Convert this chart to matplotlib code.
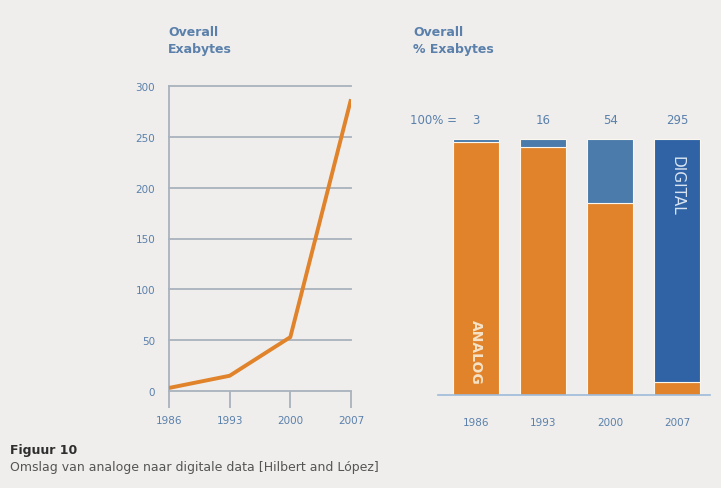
import matplotlib.pyplot as plt

years = [1986, 1993, 2000, 2007]
exabytes_line = [3, 15, 53, 287]
totals = ['3', '16', '54', '295']
digital_pct = [1, 3, 25, 95]
analog_pct = [100 - d for d in digital_pct]

bg = '#efeeec'
orange = '#e0832b'
blue_light = '#4a7bab'
blue_dark = '#2f63a6'
txt_blue = '#5a80ab'
grid_col = '#a9b2bd'

plt.rcParams['font.family'] = ['Liberation Sans Narrow', 'DejaVu Sans']

fig = plt.figure(figsize=(7.21, 4.89), dpi=100, facecolor=bg)

# left: line chart
ax1 = fig.add_axes([169 / 721, 97 / 489, 182 / 721, 305 / 489])
ax1.set_facecolor(bg)
ax1.plot(years, exabytes_line, color=orange, lw=2.8, solid_capstyle='butt', zorder=3)
ax1.set_xlim(1986, 2007)
ax1.set_ylim(0, 300)
ax1.set_yticks(range(0, 301, 50))
ax1.set_xticks(years)
for y in range(0, 301, 50):
    ax1.axhline(y, color=grid_col, lw=1.3, zorder=1, clip_on=False)
for k in ['top', 'right', 'bottom']:
    ax1.spines[k].set_visible(False)
ax1.spines['left'].set_color(grid_col)
ax1.spines['left'].set_linewidth(1.3)
ax1.tick_params(axis='y', length=0, pad=10, labelsize=7.5, labelcolor=txt_blue)
ax1.tick_params(axis='x', length=12, width=1.3, color=grid_col, direction='out',
                pad=5, labelsize=7.5, labelcolor=txt_blue)
fig.text(168 / 721, 1 - 26 / 489, 'Overall\nExabytes', fontsize=9, fontweight='bold',
         color=txt_blue, va='top', ha='left', linespacing=1.4)

# right: stacked 100% bars
ax2 = fig.add_axes([438 / 721, 93 / 489, 272 / 721, 256 / 489])
ax2.set_facecolor(bg)
xs = range(len(years))
ax2.bar(xs, analog_pct, width=0.69, color=orange, edgecolor='#fbf6ee', lw=0.8, zorder=2)
blues = [blue_light, blue_light, blue_light, blue_dark]
ax2.bar(xs, digital_pct, bottom=analog_pct, width=0.69, color=blues,
        edgecolor='#fbf6ee', lw=0.8, zorder=2)
ax2.set_xlim(-0.567, 3.49)
ax2.set_ylim(0, 100)
ax2.set_xticks(list(xs))
ax2.set_xticklabels([str(y) for y in years])
ax2.set_yticks([])
for k in ['top', 'right', 'left']:
    ax2.spines[k].set_visible(False)
ax2.spines['bottom'].set_color('#9dbad9')
ax2.spines['bottom'].set_linewidth(1.2)
ax2.tick_params(axis='x', length=0, pad=16, labelsize=7.5, labelcolor=txt_blue)
for i, t in enumerate(totals):
    ax2.text(i, 107.5, t, ha='center', va='center', fontsize=8.5, color=txt_blue)
ax2.text(-0.63, 107.5, '100% =', ha='center', va='center', fontsize=8.5, color=txt_blue)
ax2.text(0, 17, 'ANALOG', rotation=270, ha='center', va='center', fontsize=10,
         color='#f6e3c8', fontweight='bold')
ax2.text(3, 82, 'DIGITAL', rotation=270, ha='center', va='center', fontsize=11,
         color='#d9e4f1')
fig.text(413 / 721, 1 - 26 / 489, 'Overall\n% Exabytes', fontsize=9, fontweight='bold',
         color=txt_blue, va='top', ha='left', linespacing=1.4)

# caption
fig.text(10 / 721, 1 - 451 / 489, 'Figuur 10', fontsize=9, fontweight='bold',
         color='#2e2e2e', va='center')
fig.text(10 / 721, 1 - 468 / 489, 'Omslag van analoge naar digitale data [Hilbert and López]',
         fontsize=9, color='#555555', va='center')

fig.savefig('out.png', dpi=100, facecolor=bg)
